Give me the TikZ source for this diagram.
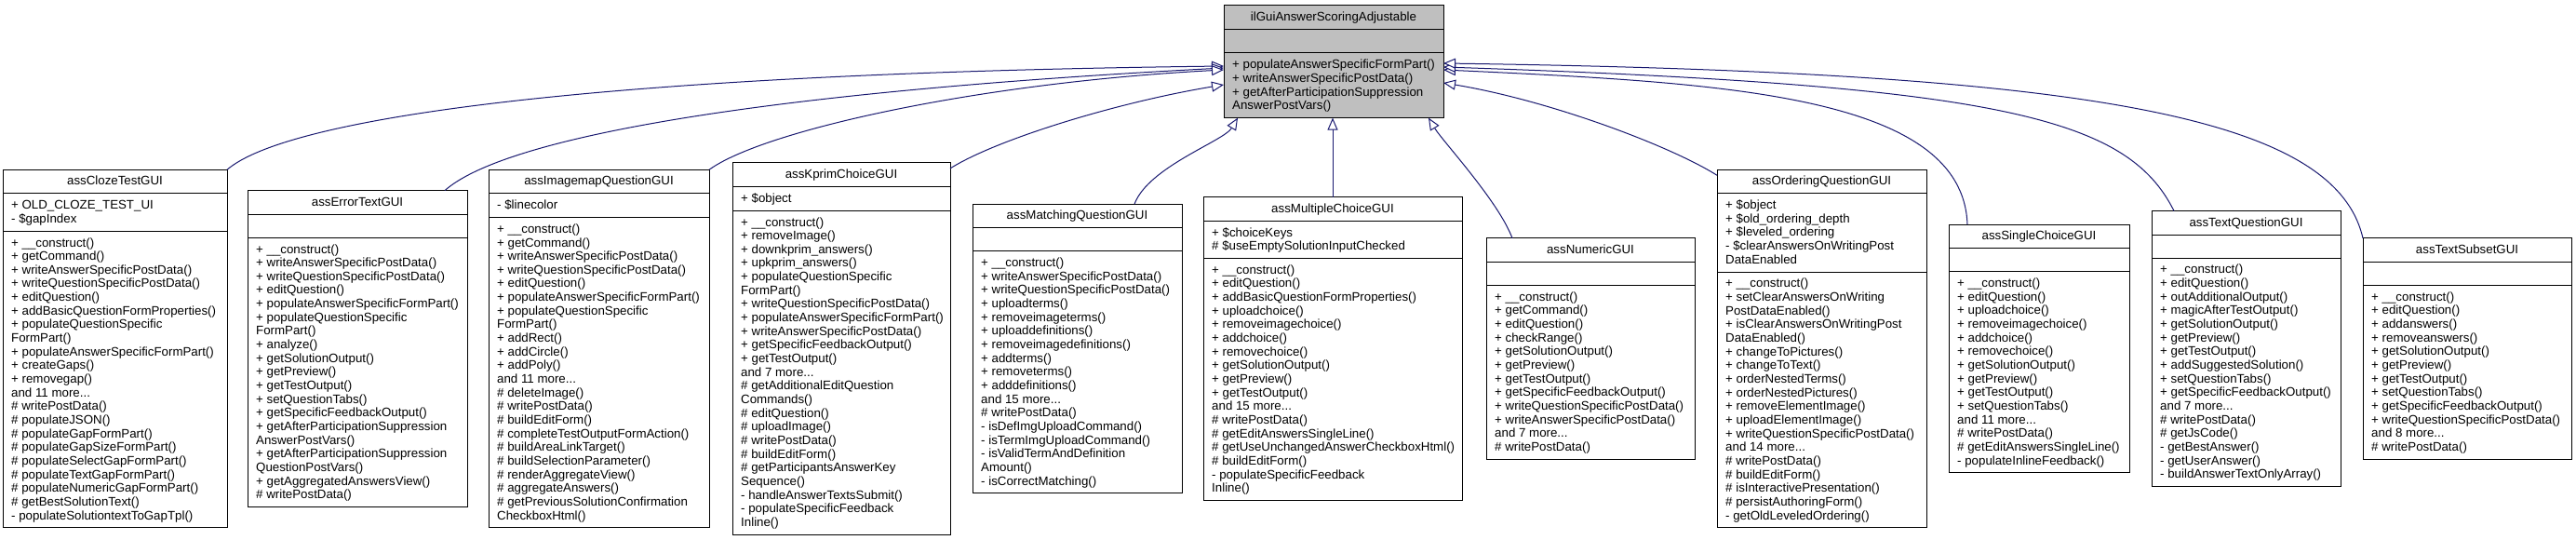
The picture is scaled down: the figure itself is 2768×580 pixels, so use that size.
\documentclass[tikz,border=0pt]{standalone}
\usepackage{fontspec}
\setmainfont{Liberation Sans}
\usetikzlibrary{arrows.meta,calc}
\definecolor{edgeblue}{HTML}{191970}
\definecolor{basegray}{HTML}{BFBFBF}
\newcommand\mystrut{\rule{0pt}{11.2pt}}
\def\curfill{white}
\tikzset{
  boxshape/.style={draw=black, fill=\curfill, line width=1pt, inner sep=0pt, outer sep=0pt, anchor=north west},
  sepline/.style={draw=black, line width=1pt},
  titletext/.style={anchor=base, inner sep=0pt, font=\fontsize{13.3}{14.65}\selectfont},
  membertext/.style={anchor=north west, inner sep=0pt, align=left, font=\fontsize{13.3}{14.65}\selectfont},
  edge/.style={draw=edgeblue, line width=1pt, -{Triangle[length=13pt,width=11pt,fill=white]}}
}
% #1 name, #2 left, #3 right, #4 top, #5 bottom, #6 sep2, #7 title, #8 attrs, #9 ops
\newcommand\classbox[9]{%
  \node[boxshape, minimum width={(#3-#2)*1pt}, minimum height={(#5-#4)*1pt}] (#1) at (#2,#4) {};
  \draw[sepline] (#2,{#4+25.5}) -- (#3,{#4+25.5});
  \draw[sepline] (#2,#6) -- (#3,#6);
  \node[titletext] (#1-title) at ({(#2+#3)/2},{#4+16.7}) {#7};
  \node[membertext] (#1-attr) at ({#2+9},{#4+31}) {\mystrut#8};
  \node[membertext] (#1-ops) at ({#2+9},{#6+5.5}) {\mystrut#9};
}
\begin{document}
\begin{tikzpicture}[x=1pt,y=-1pt]
\useasboundingbox (0,0) rectangle (2768,580);
\fill[white] (0,0) rectangle (2768,580);

\def\curfill{basegray}
\classbox{base}{1315}{1551}{6}{126.6}{57}{ilGuiAnswerScoringAdjustable}{}{%
+ populateAnswerSpecificFormPart()\\
+ writeAnswerSpecificPostData()\\
+ getAfterParticipationSuppression\\
AnswerPostVars()}
\def\curfill{white}

\classbox{cloze}{3}{244}{182.3}{566.75}{248.1}{assClozeTestGUI}{%
+ OLD\_CLOZE\_TEST\_UI\\
- \$gapIndex}{%
+ \_\_construct()\\
+ getCommand()\\
+ writeAnswerSpecificPostData()\\
+ writeQuestionSpecificPostData()\\
+ editQuestion()\\
+ addBasicQuestionFormProperties()\\
+ populateQuestionSpecific\\
FormPart()\\
+ populateAnswerSpecificFormPart()\\
+ createGaps()\\
+ removegap()\\
and 11 more...\\
\# writePostData()\\
\# populateJSON()\\
\# populateGapFormPart()\\
\# populateGapSizeFormPart()\\
\# populateSelectGapFormPart()\\
\# populateTextGapFormPart()\\
\# populateNumericGapFormPart()\\
\# getBestSolutionText()\\
- populateSolutiontextToGapTpl()}

\classbox{errortext}{266}{502}{204.6}{544.45}{255.1}{assErrorTextGUI}{}{%
+ \_\_construct()\\
+ writeAnswerSpecificPostData()\\
+ writeQuestionSpecificPostData()\\
+ editQuestion()\\
+ populateAnswerSpecificFormPart()\\
+ populateQuestionSpecific\\
FormPart()\\
+ analyze()\\
+ getSolutionOutput()\\
+ getPreview()\\
+ getTestOutput()\\
+ setQuestionTabs()\\
+ getSpecificFeedbackOutput()\\
+ getAfterParticipationSuppression\\
AnswerPostVars()\\
+ getAfterParticipationSuppression\\
QuestionPostVars()\\
+ getAggregatedAnswersView()\\
\# writePostData()}

\classbox{imagemap}{525}{762}{182.3}{566.75}{233.45}{assImagemapQuestionGUI}{%
- \$linecolor}{%
+ \_\_construct()\\
+ getCommand()\\
+ writeAnswerSpecificPostData()\\
+ writeQuestionSpecificPostData()\\
+ editQuestion()\\
+ populateAnswerSpecificFormPart()\\
+ populateQuestionSpecific\\
FormPart()\\
+ addRect()\\
+ addCircle()\\
+ addPoly()\\
and 11 more...\\
\# deleteImage()\\
\# writePostData()\\
\# buildEditForm()\\
\# completeTestOutputFormAction()\\
\# buildAreaLinkTarget()\\
\# buildSelectionParameter()\\
\# renderAggregateView()\\
\# aggregateAnswers()\\
\# getPreviousSolutionConfirmation\\
CheckboxHtml()}

\classbox{kprim}{787}{1021}{174.95}{574.05}{226.1}{assKprimChoiceGUI}{%
+ \$object}{%
+ \_\_construct()\\
+ removeImage()\\
+ downkprim\_answers()\\
+ upkprim\_answers()\\
+ populateQuestionSpecific\\
FormPart()\\
+ writeQuestionSpecificPostData()\\
+ populateAnswerSpecificFormPart()\\
+ writeAnswerSpecificPostData()\\
+ getSpecificFeedbackOutput()\\
+ getTestOutput()\\
and 7 more...\\
\# getAdditionalEditQuestion\\
Commands()\\
\# editQuestion()\\
\# uploadImage()\\
\# writePostData()\\
\# buildEditForm()\\
\# getParticipantsAnswerKey\\
Sequence()\\
- handleAnswerTextsSubmit()\\
- populateSpecificFeedback\\
Inline()}

\classbox{matching}{1045}{1270}{219.2}{529.75}{269.7}{assMatchingQuestionGUI}{}{%
+ \_\_construct()\\
+ writeAnswerSpecificPostData()\\
+ writeQuestionSpecificPostData()\\
+ uploadterms()\\
+ removeimageterms()\\
+ uploaddefinitions()\\
+ removeimagedefinitions()\\
+ addterms()\\
+ removeterms()\\
+ adddefinitions()\\
and 15 more...\\
\# writePostData()\\
- isDefImgUploadCommand()\\
- isTermImgUploadCommand()\\
- isValidTermAndDefinition\\
Amount()\\
- isCorrectMatching()}

\classbox{mc}{1293}{1571}{211.6}{537.45}{277.4}{assMultipleChoiceGUI}{%
+ \$choiceKeys\\
\# \$useEmptySolutionInputChecked}{%
+ \_\_construct()\\
+ editQuestion()\\
+ addBasicQuestionFormProperties()\\
+ uploadchoice()\\
+ removeimagechoice()\\
+ addchoice()\\
+ removechoice()\\
+ getSolutionOutput()\\
+ getPreview()\\
+ getTestOutput()\\
and 15 more...\\
\# writePostData()\\
\# getEditAnswersSingleLine()\\
\# getUseUnchangedAnswerCheckboxHtml()\\
\# buildEditForm()\\
- populateSpecificFeedback\\
Inline()}

\classbox{numeric}{1597}{1821}{255.85}{493.15}{306.35}{assNumericGUI}{}{%
+ \_\_construct()\\
+ getCommand()\\
+ editQuestion()\\
+ checkRange()\\
+ getSolutionOutput()\\
+ getPreview()\\
+ getTestOutput()\\
+ getSpecificFeedbackOutput()\\
+ writeQuestionSpecificPostData()\\
+ writeAnswerSpecificPostData()\\
and 7 more...\\
\# writePostData()}

\classbox{ordering}{1845}{2070}{182.3}{566.75}{292.05}{assOrderingQuestionGUI}{%
+ \$object\\
+ \$old\_ordering\_depth\\
+ \$leveled\_ordering\\
- \$clearAnswersOnWritingPost\\
DataEnabled}{%
+ \_\_construct()\\
+ setClearAnswersOnWriting\\
PostDataEnabled()\\
+ isClearAnswersOnWritingPost\\
DataEnabled()\\
+ changeToPictures()\\
+ changeToText()\\
+ orderNestedTerms()\\
+ orderNestedPictures()\\
+ removeElementImage()\\
+ uploadElementImage()\\
+ writeQuestionSpecificPostData()\\
and 14 more...\\
\# writePostData()\\
\# buildEditForm()\\
\# isInteractivePresentation()\\
\# persistAuthoringForm()\\
- getOldLeveledOrdering()}

\classbox{single}{2094}{2288}{241.2}{507.8}{291.7}{assSingleChoiceGUI}{}{%
+ \_\_construct()\\
+ editQuestion()\\
+ uploadchoice()\\
+ removeimagechoice()\\
+ addchoice()\\
+ removechoice()\\
+ getSolutionOutput()\\
+ getPreview()\\
+ getTestOutput()\\
+ setQuestionTabs()\\
and 11 more...\\
\# writePostData()\\
\# getEditAnswersSingleLine()\\
- populateInlineFeedback()}

\classbox{textq}{2312}{2515}{226.55}{522.45}{277.05}{assTextQuestionGUI}{}{%
+ \_\_construct()\\
+ editQuestion()\\
+ outAdditionalOutput()\\
+ magicAfterTestOutput()\\
+ getSolutionOutput()\\
+ getPreview()\\
+ getTestOutput()\\
+ addSuggestedSolution()\\
+ setQuestionTabs()\\
+ getSpecificFeedbackOutput()\\
and 7 more...\\
\# writePostData()\\
\# getJsCode()\\
- getBestAnswer()\\
- getUserAnswer()\\
- buildAnswerTextOnlyArray()}

\classbox{subset}{2539}{2763}{255.85}{493.15}{306.35}{assTextSubsetGUI}{}{%
+ \_\_construct()\\
+ editQuestion()\\
+ addanswers()\\
+ removeanswers()\\
+ getSolutionOutput()\\
+ getPreview()\\
+ getTestOutput()\\
+ setQuestionTabs()\\
+ getSpecificFeedbackOutput()\\
+ writeQuestionSpecificPostData()\\
and 8 more...\\
\# writePostData()}

% connectors
\draw[edge] (cloze.north east) .. controls +(66,-57) and +(-665,8) .. ($(base.north west)+(0,65)$);
\draw[edge] ($(errortext.north east)+(-24,0)$) .. controls +(62,-55) and +(-515,27) .. ($(base.north west)+(0,67)$);
\draw[edge] (imagemap.north east) .. controls +(58,-42) and +(-265,14) .. ($(base.north west)+(0,69)$);
\draw[edge] ($(kprim.north east)+(0,6)$) .. controls +(49,-31) and +(-115,19) .. ($(base.north west)+(0,85)$);
\draw[edge] ($(matching.north east)+(-51,0)$) .. controls +(15,-40) and +(-15,25) .. ($(base.south west)+(15,0)$);
\draw[edge] (mc.north) -- (mc.north |- base.south);
\draw[edge] ($(numeric.north west)+(28,0)$) .. controls +(-15,-40) and +(15,25) .. ($(base.south east)+(-16,0)$);
\draw[edge] ($(ordering.north west)+(0,6)$) .. controls +(-49,-31) and +(115,19) .. ($(base.north east)+(0,83)$);
\draw[edge] ($(single.north west)+(20,0)$) .. controls +(-5,-140) and +(300,14) .. ($(base.north east)+(0,69)$);
\draw[edge] ($(textq.north west)+(24,0)$) .. controls +(-50,-100) and +(600,20) .. ($(base.north east)+(0,66)$);
\draw[edge] (subset.north west) .. controls +(-30,-130) and +(700,10) .. ($(base.north east)+(0,62)$);
\end{tikzpicture}
\end{document}
